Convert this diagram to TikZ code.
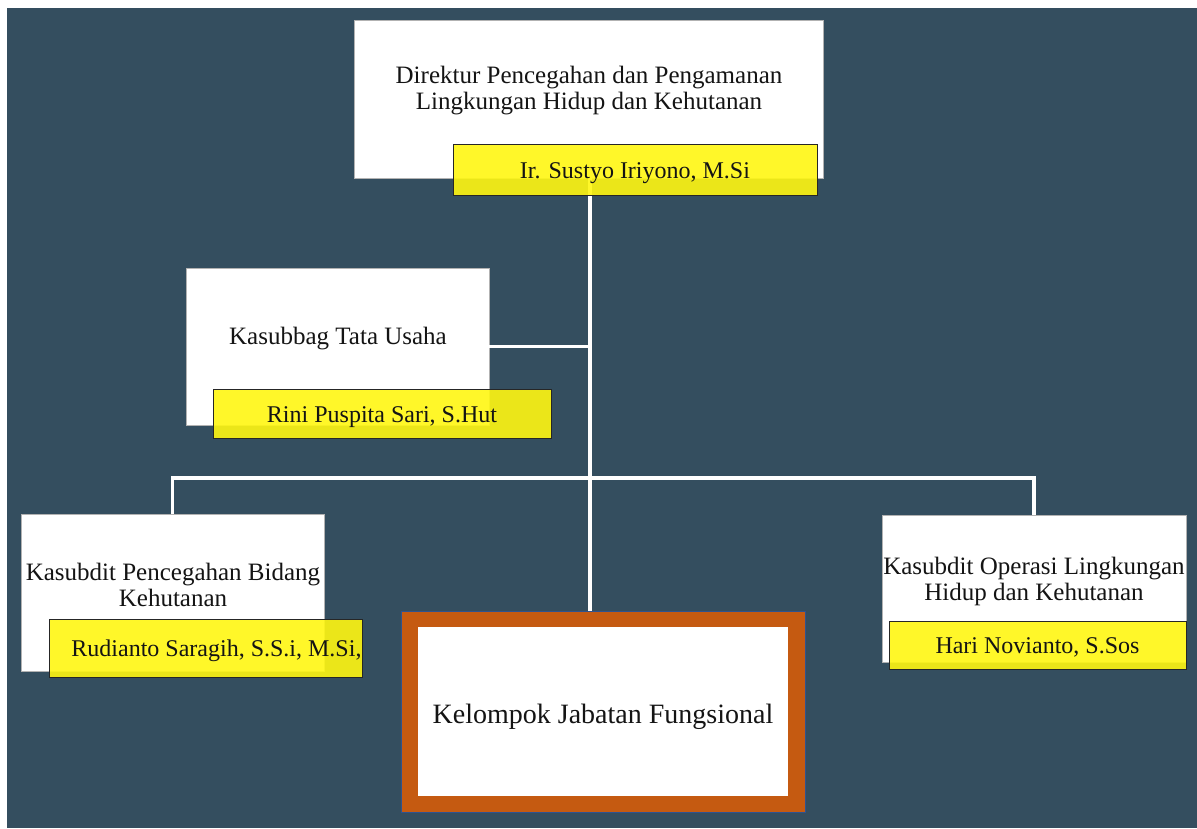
\documentclass[tikz,border=0pt]{standalone}
\usepackage{fontspec}
\setmainfont{Liberation Serif}
\definecolor{latar}{RGB}{52,78,95}
\definecolor{kuning}{RGB}{255,247,18}
\definecolor{oranye}{RGB}{197,90,17}
\definecolor{garisbiru}{RGB}{47,82,143}
\definecolor{teks}{RGB}{20,20,20}
\tikzset{
	jabatan/.style={draw=gray!60, line width=0.9pt, fill=white, inner sep=0pt, outer sep=0pt},
	pejabat/.style={draw=black!85, line width=0.9pt, fill=kuning, fill opacity=0.9, text opacity=1, text=teks, inner sep=0pt, outer sep=0pt, text height=23pt, text depth=5.5pt, font=\fontsize{24}{26}\selectfont},
	judul/.style={align=center, text=teks, inner sep=0pt, font=\fontsize{25}{26}\selectfont},
	garis/.style={draw=white, line width=3.2pt}
}
\begin{document}
\begin{tikzpicture}[x=1pt, y=-1pt]
	\useasboundingbox (0,0) rectangle (1197,828);
	\fill[latar] (7,8) rectangle (1197,828);
	\node[jabatan, minimum width=469, minimum height=158] (direktur) at (588.5,99) {};
	\node[jabatan, minimum width=303, minimum height=157] (kasubbag) at (337.5,346.5) {};
	\node[jabatan, minimum width=303, minimum height=157] (kiri) at (172.5,592.5) {};
	\node[jabatan, minimum width=304, minimum height=147] (kanan) at (1034,588.5) {};
	\node[draw=garisbiru, line width=0.8pt, fill=oranye, minimum width=404, minimum height=201, inner sep=0pt] (kjfluar) at (603,711.5) {};
	\node[fill=white, minimum width=370, minimum height=169, inner sep=0pt] (kjf) at (603,711.5) {};
	\node[text=teks, inner sep=0pt, font=\fontsize{28}{30}\selectfont] (kjftxt) at (603,717) {Kelompok Jabatan Fungsional};
	\coordinate (cabang) at (590,478);
	\draw[garis] (direktur.south -| cabang) -- (kjfluar.north -| cabang);
	\draw[garis] (kasubbag.east) -- (kasubbag.east -| cabang);
	\draw[garis] (kiri.north) |- (cabang) -| (kanan.north);
	\node[pejabat, minimum width=364, minimum height=51] (sustyo) at (635,169.5) {Ir. Sustyo Iriyono, M.Si};
	\node[pejabat, minimum width=338, minimum height=49] (rini) at (382,413.5) {Rini Puspita Sari, S.Hut};
	\node[pejabat, minimum width=313, minimum height=58] (rudianto) at (205.5,648) {\hspace*{22pt}Rudianto Saragih, S.S.i, M.Si,};
	\node[pejabat, minimum width=297, minimum height=48] (hari) at (1037.5,645) {Hari Novianto, S.Sos};
	\node[judul] (direkturtxt) at (589,91) {Direktur Pencegahan dan Pengamanan\\Lingkungan Hidup dan Kehutanan};
	\node[judul] (kasubbagtxt) at (338,339) {Kasubbag Tata Usaha};
	\node[judul] (kiritxt) at (173,585) {Kasubdit Pencegahan Bidang\\Kehutanan};
	\node[judul] (kanantxt) at (1034,581) {Kasubdit Operasi Lingkungan\\Hidup dan Kehutanan};
\end{tikzpicture}
\end{document}
